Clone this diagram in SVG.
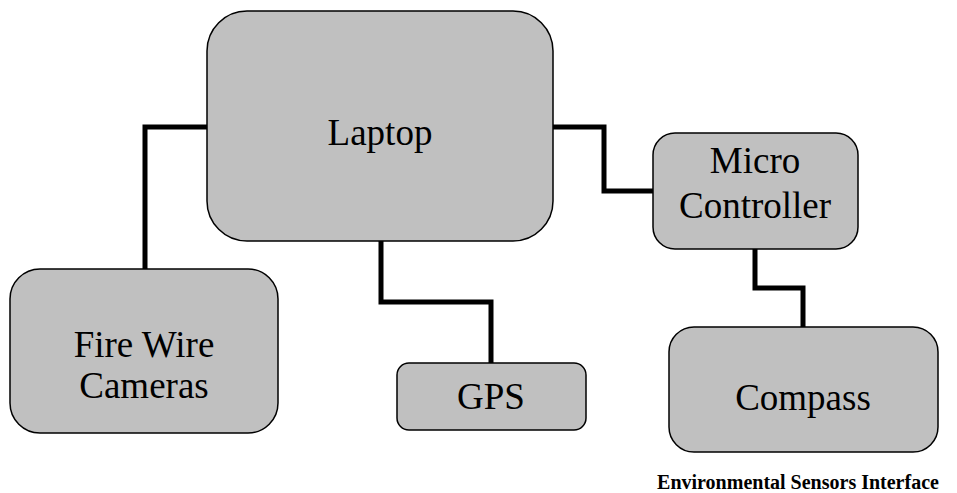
<svg xmlns="http://www.w3.org/2000/svg" width="957" height="493" viewBox="0 0 957 493">
<style>
.box{fill:#c0c0c0;stroke:#000;stroke-width:1.5}
.lbl{font-family:'Liberation Serif','DejaVu Serif',serif;font-size:37px;font-weight:normal;fill:#000;text-anchor:middle}
.wire{fill:none;stroke:#000;stroke-width:5;stroke-linejoin:miter}
.cap{font-family:'Liberation Serif','DejaVu Serif',serif;font-size:20px;font-weight:bold;fill:#000;text-anchor:middle}
</style>
<rect width="957" height="493" fill="#fff"/>
<g id="connectors">
<polyline class="wire" points="207,127 145,127 145,269"/>
<polyline class="wire" points="381,241 381,302 491,302 491,363"/>
<polyline class="wire" points="553,127 604,127 604,191 653,191"/>
<polyline class="wire" points="755,249 755,288 803,288 803,327"/>
</g>
<g id="laptop"><rect class="box" x="207" y="11" width="346" height="230" rx="40"/><text class="lbl" x="380" y="145">Laptop</text></g>
<g id="firewire"><rect class="box" x="10" y="269" width="268" height="164" rx="30"/><text class="lbl" x="144" y="357">Fire Wire</text><text class="lbl" x="144" y="398">Cameras</text></g>
<g id="gps"><rect class="box" x="397" y="363" width="189" height="67" rx="12"/><text class="lbl" x="491" y="409">GPS</text></g>
<g id="micro"><rect class="box" x="653" y="133" width="205" height="116" rx="22"/><text class="lbl" x="755" y="173">Micro</text><text class="lbl" x="755" y="218">Controller</text></g>
<g id="compass"><rect class="box" x="669" y="327" width="269" height="125" rx="25"/><text class="lbl" x="803" y="410">Compass</text></g>
<text class="cap" x="798" y="489">Environmental Sensors Interface</text>
</svg>
